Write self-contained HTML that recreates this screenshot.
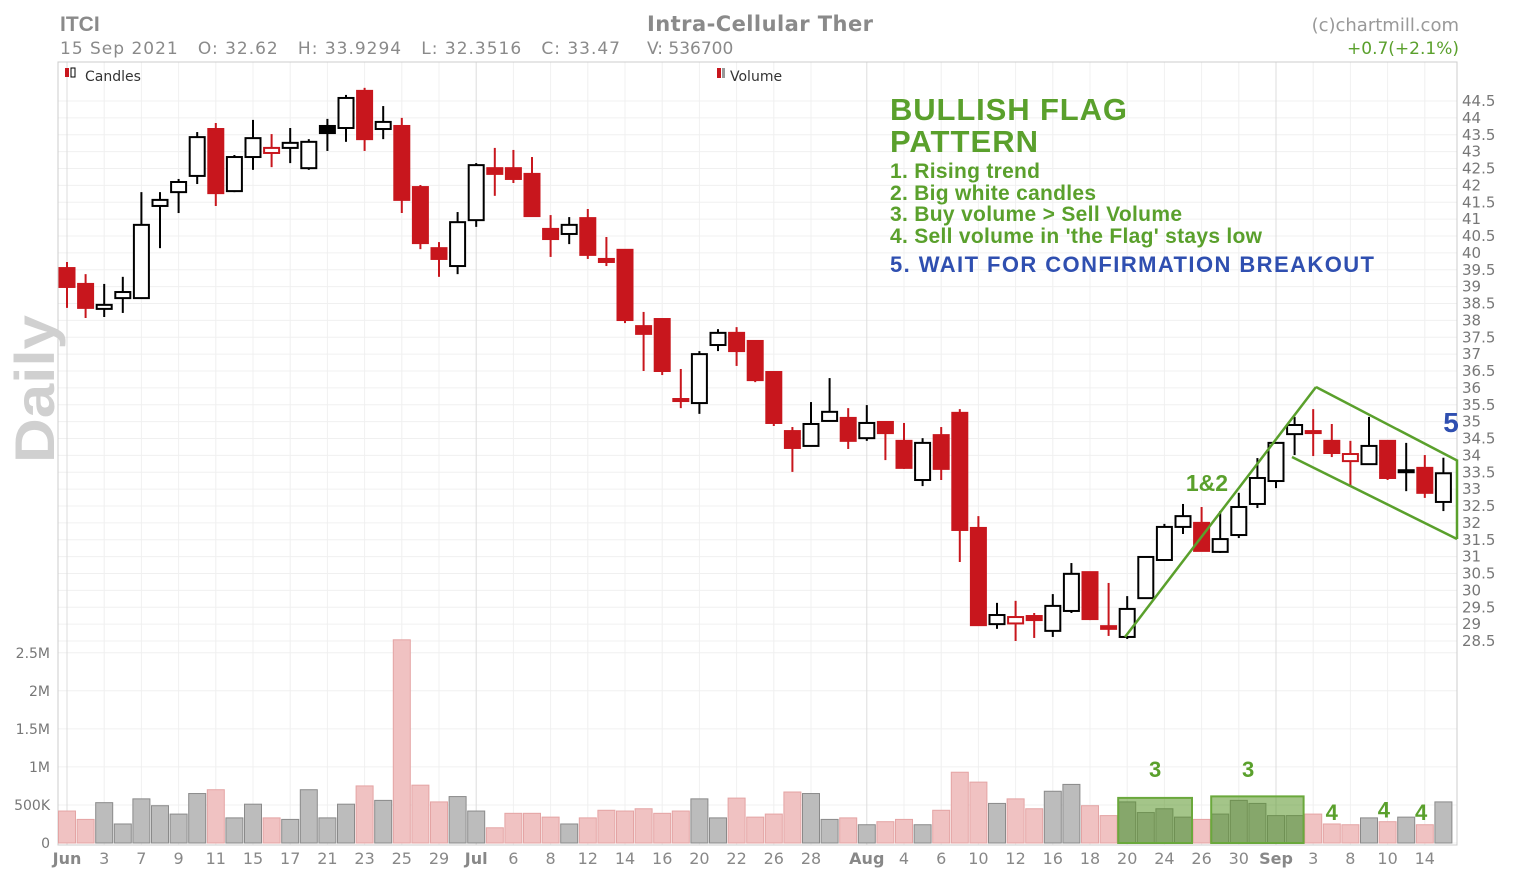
<!DOCTYPE html>
<html><head><meta charset="utf-8">
<style>
body{margin:0;background:#fff;width:1513px;height:884px;overflow:hidden;font-family:"Liberation Sans",sans-serif}
svg{display:block}
</style></head><body>
<svg id="chart" width="1513" height="884" xmlns="http://www.w3.org/2000/svg" font-family="Liberation Sans, DejaVu Sans, sans-serif">
<g id="grid"></g>
<rect x="58" y="62" width="1399" height="783" fill="none" stroke="#ccc"/>
<text transform="translate(54,389) rotate(-90)" text-anchor="middle" font-size="56" font-weight="bold" fill="#d0d0d0" textLength="148" lengthAdjust="spacingAndGlyphs">Daily</text>
<g id="vol"></g>
<g id="candles"></g>
<g id="axes"></g>
<text x="60" y="31" font-size="21" font-weight="bold" fill="#8a8a8a">ITCI</text>
<text x="60" y="54" font-size="17" fill="#8a8a8a" font-family="DejaVu Sans, sans-serif" textLength="560" lengthAdjust="spacing" xml:space="preserve">15 Sep 2021   O: 32.62   H: 33.9294   L: 32.3516   C: 33.47</text>
<text x="647" y="31" font-size="21" font-weight="bold" fill="#8a8a8a" font-family="DejaVu Sans, sans-serif" textLength="226">Intra-Cellular Ther</text>
<text x="647" y="54" font-size="17" fill="#8a8a8a" font-family="DejaVu Sans, sans-serif">V: 536700</text>
<text x="1459" y="31" font-size="18" fill="#999" text-anchor="end" font-family="DejaVu Sans, sans-serif">(c)chartmill.com</text>
<text x="1459" y="54" font-size="17" fill="#5aa02c" text-anchor="end" font-family="DejaVu Sans, sans-serif">+0.7(+2.1%)</text>
<g><rect x="65" y="68" width="4" height="9" fill="#c8161d"/><rect x="71" y="68" width="4" height="9" fill="#fff" stroke="#000"/><text x="85" y="81" font-size="14" fill="#333" font-family="DejaVu Sans, sans-serif">Candles</text></g>
<g><rect x="717" y="68" width="4" height="10" fill="#c8161d"/><rect x="722" y="68" width="3" height="10" fill="#999"/><text x="730" y="81" font-size="14" fill="#333" font-family="DejaVu Sans, sans-serif">Volume</text></g>
<g font-weight="bold" lengthAdjust="spacingAndGlyphs">
<text x="890" y="120" font-size="31" fill="#5aa02c" textLength="237">BULLISH FLAG</text>
<text x="890" y="152" font-size="31" fill="#5aa02c" textLength="148">PATTERN</text>
<text x="890" y="178" font-size="21" fill="#5aa02c" textLength="150">1. Rising trend</text>
<text x="890" y="200" font-size="21" fill="#5aa02c" textLength="206">2. Big white candles</text>
<text x="890" y="221" font-size="21" fill="#5aa02c" textLength="292">3. Buy volume &gt; Sell Volume</text>
<text x="890" y="243" font-size="21" fill="#5aa02c" textLength="372">4. Sell volume in 'the Flag' stays low</text>
<text x="890" y="272" font-size="22" fill="#2f4fb0" textLength="484">5. WAIT FOR CONFIRMATION BREAKOUT</text>
</g>
<g stroke="#5aa02c" stroke-width="2.5" fill="none">
<line x1="1125" y1="637" x2="1316" y2="387"/>
<line x1="1316" y1="387" x2="1458" y2="461"/>
<line x1="1292" y1="457" x2="1457" y2="539"/>
<line x1="1457" y1="461" x2="1457" y2="539"/>
</g>
<text x="1207" y="491" font-size="23" font-weight="bold" fill="#5aa02c" text-anchor="middle">1&amp;2</text>
<text x="1451" y="432" font-size="28" font-weight="bold" fill="#2f4fb0" text-anchor="middle">5</text>
<g id="volann"></g>
</svg>
<script>
const dateLabels=["Jun","3","7","9","11","15","17","21","23","25","29","Jul","6","8","12","14","16","20","22","26","28","Aug","4","6","10","12","16","18","20","24","26","30","Sep","3","8","10","14"];
const labelIdx=[0,2,4,6,8,10,12,14,16,18,20,22,24,26,28,30,32,34,36,38,40,43,45,47,49,51,53,55,57,59,61,63,65,67,69,71,73];
const monthLabels=["Jun","Jul","Aug","Sep"];
const opens=[39.55,39.08,38.34,38.66,38.66,41.39,41.80,42.28,43.67,41.83,42.84,42.96,43.11,42.51,43.76,43.70,44.80,43.67,43.76,41.95,40.14,39.61,40.97,42.51,42.51,42.34,40.71,40.56,41.03,39.82,40.09,37.83,38.04,35.67,35.55,37.27,37.63,37.39,36.47,34.72,34.28,35.02,35.11,34.51,34.99,34.43,33.27,34.60,35.26,31.85,29.00,29.02,29.24,28.80,29.39,30.54,28.94,28.62,29.77,30.90,31.88,32.00,31.14,31.64,32.56,33.24,34.63,34.72,34.43,33.83,33.74,34.43,33.56,33.63,32.62];
const highs=[39.73,39.37,39.08,39.29,41.80,41.80,42.19,43.58,43.85,42.90,43.94,43.52,43.70,43.37,43.97,44.68,44.89,44.35,44.00,42.01,40.32,41.21,42.66,43.11,43.05,42.84,41.12,41.06,41.30,40.47,40.11,38.25,38.04,36.56,37.09,37.74,37.80,37.39,36.47,34.84,35.58,36.29,35.40,35.49,34.99,34.96,34.51,34.84,35.37,32.20,29.63,29.69,29.33,29.89,30.81,30.54,30.22,29.83,30.99,31.97,32.56,32.47,32.35,32.89,33.92,34.37,35.14,35.37,34.93,34.43,35.14,34.43,34.37,34.01,33.93];
const lows=[38.37,38.07,38.10,38.22,38.66,40.14,41.18,42.04,41.39,41.80,42.46,42.54,42.66,42.46,43.02,43.29,43.02,43.37,41.18,40.11,39.29,39.37,40.77,41.69,42.07,41.09,39.88,40.26,39.82,39.61,37.92,36.50,36.38,35.40,35.23,37.09,36.65,36.17,34.87,33.51,34.28,35.02,34.19,34.43,33.86,33.60,33.09,33.27,30.84,28.95,28.86,28.50,28.59,28.62,29.33,29.12,28.65,28.56,29.77,30.90,31.67,31.17,31.11,31.55,32.44,33.03,34.01,33.98,33.95,33.09,33.74,33.27,32.94,32.74,32.35];
const closes=[38.99,38.37,38.46,38.84,40.83,41.57,42.10,43.43,41.77,42.84,43.40,43.11,43.26,43.29,43.55,44.59,43.37,43.88,41.57,40.29,39.82,40.91,42.60,42.34,42.19,41.09,40.41,40.83,39.94,39.73,38.01,37.60,36.50,35.61,37.00,37.63,37.09,36.23,34.96,34.22,34.93,35.29,34.43,34.96,34.66,33.63,34.37,33.60,31.79,28.97,29.27,29.21,29.12,29.54,30.49,29.15,28.86,29.45,30.99,31.88,32.20,31.17,31.52,32.47,33.33,34.37,34.90,34.69,34.07,34.04,34.28,33.33,33.54,32.89,33.47];
const volumes=[0.42,0.31,0.53,0.25,0.58,0.49,0.38,0.65,0.70,0.33,0.51,0.33,0.31,0.70,0.33,0.51,0.75,0.56,2.67,0.76,0.54,0.61,0.42,0.20,0.39,0.39,0.34,0.25,0.33,0.43,0.42,0.45,0.39,0.42,0.58,0.33,0.59,0.34,0.38,0.67,0.65,0.31,0.33,0.24,0.28,0.31,0.24,0.43,0.93,0.80,0.52,0.58,0.45,0.68,0.77,0.49,0.36,0.54,0.40,0.45,0.34,0.31,0.38,0.56,0.52,0.36,0.36,0.38,0.25,0.24,0.33,0.28,0.34,0.24,0.54];
const priceTicks=[44.5,44,43.5,43,42.5,42,41.5,41,40.5,40,39.5,39,38.5,38,37.5,37,36.5,36,35.5,35,34.5,34,33.5,33,32.5,32,31.5,31,30.5,30,29.5,29,28.5];
const volTicks=[0,0.5,1,1.5,2,2.5];
const volTickLabels=["0","500K","1M","1.5M","2M","2.5M"];
const volBoxes=[[57,60],[62,66]];
const volBoxLabels=[{i:58.5,t:"3",v:0.93},{i:63.5,t:"3",v:0.93},{i:68,t:"4",v:0.37},{i:70.8,t:"4",v:0.4},{i:72.8,t:"4",v:0.37}];

const NS="http://www.w3.org/2000/svg";
const X=i=>67+i*18.6;
const Y=p=>101+(44.5-p)*33.75;
const VY=v=>843-v*76.1;
function mk(tag,attrs,parent){const e=document.createElementNS(NS,tag);for(const k in attrs)e.setAttribute(k,attrs[k]);parent.appendChild(e);return e;}
const grid=document.getElementById('grid'),axes=document.getElementById('axes'),cg=document.getElementById('candles'),vg=document.getElementById('vol'),va=document.getElementById('volann');
priceTicks.forEach(p=>{
  const l=mk('line',{x1:58,x2:1457,y1:Y(p),y2:Y(p),stroke:'#f0f0f0'},grid);
  
  const t=mk('text',{x:1462,y:Y(p)+5,'font-size':15,fill:'#777','font-family':'DejaVu Sans, sans-serif'},axes);
  t.textContent=String(p);
});
volTicks.forEach((v,k)=>{
  const l=mk('line',{x1:58,x2:1457,y1:VY(v),y2:VY(v),stroke:'#f0f0f0'},grid);
  
  const t=mk('text',{x:50,y:VY(v)+5,'font-size':14,fill:'#777','text-anchor':'end','font-family':'DejaVu Sans, sans-serif'},axes);
  t.textContent=volTickLabels[k];
});
dateLabels.forEach((d,k)=>{
  const x=X(labelIdx[k]);const m=monthLabels.includes(d);
  const l=mk('line',{x1:x,x2:x,y1:62,y2:845,stroke:m?'#ddd':'#f0f0f0'},grid);
  
  const t=mk('text',{x:x,y:864,'font-size':16,fill:'#888','text-anchor':'middle','font-weight':m?'bold':'normal','font-family':'DejaVu Sans, sans-serif'},axes);
  t.textContent=d;
});
const RED='#c8161d';
closes.forEach((c,i)=>{
  const o=opens[i],up=i===0?c>=o:c>=closes[i-1];
  const col=up?'#000':RED;
  const x=X(i);
  const w=mk('line',{x1:x,x2:x,y1:Y(highs[i]),y2:Y(lows[i]),stroke:col,'stroke-width':2},cg);
  
  const top=Y(Math.max(o,c)),bot=Y(Math.min(o,c));
  const filled=c<o;
  const b=mk('rect',{x:x-7.5,y:top,width:15,height:Math.max(bot-top,2),fill:filled?col:'#fff',stroke:col,'stroke-width':2},cg);
  
  const v=volumes[i];
  const r=mk('rect',{x:x-8.5,y:VY(v),width:17,height:843-VY(v),fill:up?'#bcbcbc':'#f0c2c2',stroke:up?'#8a8a8a':'#e4a4a4','stroke-width':1},vg);
  
});
volBoxes.forEach(b=>{
  let m=0;for(let i=b[0];i<=b[1];i++)m=Math.max(m,volumes[i]);
  const r=mk('rect',{x:X(b[0])-9,y:VY(m)-4,width:X(b[1])-X(b[0])+18,height:843-VY(m)+4,fill:'rgba(90,150,40,0.55)',stroke:'#6aa83c','stroke-width':2},va);
  
});
volBoxLabels.forEach(a=>{
  const t=mk('text',{x:X(a.i),y:VY(a.v)+5,'font-size':22,'font-weight':'bold',fill:'#5aa02c','text-anchor':'middle'},va);
  t.textContent=a.t;
});
</script>
</body></html>
